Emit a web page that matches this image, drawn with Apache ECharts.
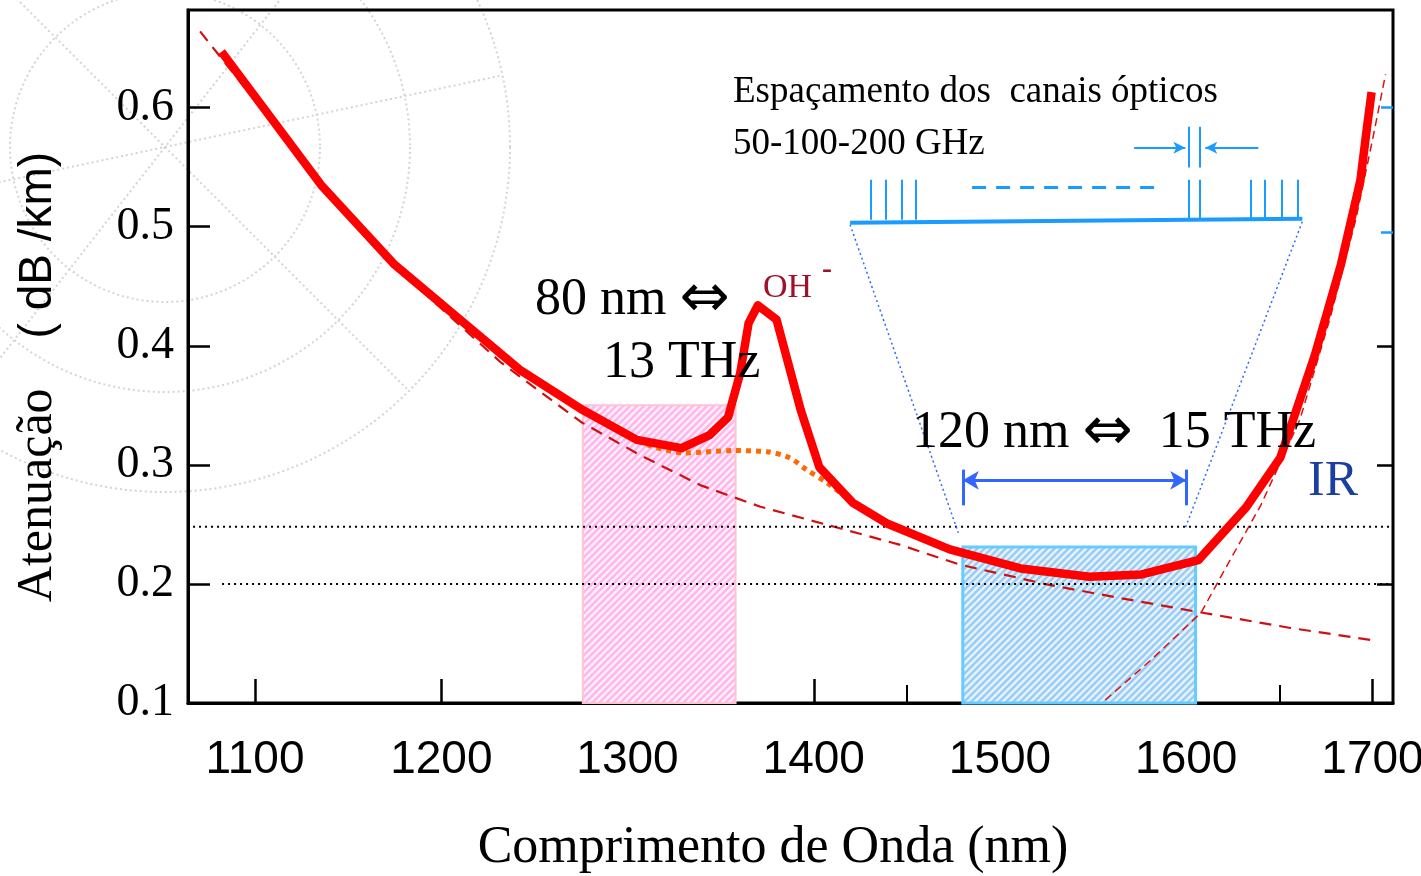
<!DOCTYPE html>
<html>
<head>
<meta charset="utf-8">
<title>Atenuação da fibra</title>
<script src="https://cdn.jsdelivr.net/npm/echarts@6/dist/echarts.min.js"></script>
<style>
  html, body { margin: 0; padding: 0; background: #fff; }
  #chart { width: 1421px; height: 876px; }
</style>
</head>
<body>
<div id="chart"></div>
<script>
// curva de atenuação medida (nm, dB/km)
var lambdaFibra = [1082, 1136, 1175, 1210, 1242, 1276, 1305, 1329, 1344, 1354, 1360.5, 1365, 1370, 1380, 1393, 1403, 1421, 1439, 1473, 1511, 1548, 1576, 1606.5, 1632, 1650.5, 1669, 1683, 1693.5, 1697, 1699.5];
var atenFibra = [0.647, 0.534, 0.468, 0.422, 0.380, 0.346, 0.321, 0.314, 0.325, 0.340, 0.377, 0.419, 0.434, 0.422, 0.346, 0.298, 0.268, 0.251, 0.229, 0.213, 0.206, 0.208, 0.220, 0.264, 0.306, 0.392, 0.468, 0.539, 0.583, 0.613];

// fibra sem o pico OH- (pontilhado laranja)
var lambdaSemOH = [1310.5, 1330, 1357, 1375, 1387, 1396, 1407, 1425];
var atenSemOH = [0.317, 0.310, 0.312, 0.311, 0.306, 0.296, 0.285, 0.264];

// espalhamento Rayleigh (tracejado)
var lambdaRayleigh = [1070.5, 1103, 1140, 1189, 1232, 1275, 1307, 1339, 1371, 1411, 1446, 1479, 1527, 1565, 1608, 1656, 1699];
var atenRayleigh = [0.664, 0.600, 0.527, 0.447, 0.386, 0.336, 0.308, 0.283, 0.265, 0.248, 0.233, 0.216, 0.199, 0.188, 0.176, 0.163, 0.153];

// absorção infravermelha (tracejado fino)
var lambdaIR = [1556.5, 1581, 1608, 1623.5, 1640, 1661, 1677, 1691, 1700, 1707];
var atenIR = [0.1025, 0.136, 0.176, 0.220, 0.266, 0.338, 0.422, 0.506, 0.573, 0.628];

// níveis de referência (linhas pontilhadas)
var nivelSuperior = 0.248;
var nivelInferior = 0.2;

// bandas (nm) e topo (dB/km)
var banda1310 = [1276, 1358];
var topo1310 = 0.35;
var banda1550 = [1480, 1605];
var topo1550 = 0.231;

// eixos
var ticksX = [1100, 1200, 1300, 1400, 1500, 1600, 1700];
var ticksXMenores = [1350, 1450, 1550, 1650];
var ticksY = [0.1, 0.2, 0.3, 0.4, 0.5, 0.6];

// diagrama dos canais (em unidades dos eixos)
var canaisX = [1430.8, 1438.9, 1447, 1455, 1601.1, 1607.5, 1634.4, 1642.4, 1651, 1659.6];

function hachura(fundo, traco) {
    var c = document.createElement('canvas');
    c.width = 7; c.height = 7;
    var g = c.getContext('2d');
    g.fillStyle = fundo;
    g.fillRect(0, 0, 7, 7);
    g.strokeStyle = traco;
    g.lineWidth = 2.6;
    g.beginPath();
    g.moveTo(-1, 8); g.lineTo(8, -1);
    g.moveTo(-4, 4); g.lineTo(4, -4);
    g.moveTo(3, 11); g.lineTo(11, 3);
    g.stroke();
    return c;
}

function pares(xs, ys) {
    return xs.map(function (x, i) { return [x, ys[i]]; });
}

var azul = '#1a9bff';
var azulSeta = '#3366ff';
var serif = '"Liberation Serif", "Times New Roman", serif';

var chart = echarts.init(document.getElementById('chart'));

var linhasAnot = [];
// linha base dos canais
linhasAnot.push([{ coord: [1419.5, 0.5034] }, { coord: [1662.3, 0.5067], lineStyle: { color: azul, width: 4, type: 'solid' } }]);
canaisX.forEach(function (x, i) {
    linhasAnot.push([{ coord: [x, 0.5059] }, { coord: [x, 0.5395], lineStyle: { color: azul, width: 2, type: 'solid' } }]);
});
linhasAnot.push([{ coord: [1485, 0.5328] }, { coord: [1583, 0.5328], lineStyle: { color: azul, width: 3, type: [14, 10] } }]);
[1601.1, 1607.5].forEach(function (x) {
    linhasAnot.push([{ coord: [x, 0.5497] }, { coord: [x, 0.584], lineStyle: { color: azul, width: 2, type: 'solid' } }]);
});
linhasAnot.push([{ coord: [1572, 0.5664] }, { coord: [1599.5, 0.5664], symbol: 'arrow', symbolSize: [9, 12], lineStyle: { color: azul, width: 2, type: 'solid' } }]);
linhasAnot.push([{ coord: [1638.7, 0.5664] }, { coord: [1610.2, 0.5664], symbol: 'arrow', symbolSize: [9, 12], lineStyle: { color: azul, width: 2, type: 'solid' } }]);
// trapézio pontilhado
linhasAnot.push([{ coord: [1419.5, 0.5017] }, { coord: [1477.6, 0.2429], lineStyle: { color: azulSeta, width: 1.5, type: [2, 3] } }]);
linhasAnot.push([{ coord: [1662.3, 0.5042] }, { coord: [1599.5, 0.247], lineStyle: { color: azulSeta, width: 1.5, type: [2, 3] } }]);
// seta 120 nm
linhasAnot.push([{ coord: [1480, 0.287], symbol: 'arrow' }, { coord: [1600, 0.287], symbol: 'arrow', lineStyle: { color: azulSeta, width: 3, type: 'solid' } }]);
[1480, 1600].forEach(function (x) {
    linhasAnot.push([{ coord: [x, 0.266] }, { coord: [x, 0.296], lineStyle: { color: azulSeta, width: 3, type: 'solid' } }]);
});

var circulos = [155, 245, 345].map(function (r) {
    return {
        type: 'circle', z: -10, silent: true,
        shape: { cx: 165, cy: 147, r: r },
        style: { fill: 'none', stroke: '#d4d4d4', lineWidth: 2, lineDash: [2, 3] }
    };
});
var raios = [-12, 45, 128].map(function (a) {
    var t = a * Math.PI / 180, r = 345;
    return {
        type: 'line', z: -10, silent: true,
        shape: { x1: 165 - r * Math.cos(t), y1: 147 - r * Math.sin(t), x2: 165 + r * Math.cos(t), y2: 147 + r * Math.sin(t) },
        style: { stroke: '#d4d4d4', lineWidth: 2, lineDash: [2, 3] }
    };
});

// seta dupla
var setaRich = { ar: { font: '60px "DejaVu Sans", sans-serif', fill: '#000' } };

function texto(x, y, s, size, cor, extra) {
    var o = {
        type: 'text', x: x, y: y, z: 50, silent: true,
        style: { text: s, font: size + 'px ' + serif, fill: cor || '#000', align: 'left', verticalAlign: 'middle', rich: setaRich }
    };
    if (extra) Object.assign(o.style, extra);
    return o;
}

var option = {
    animation: false,
    backgroundColor: '#fff',
    grid: {
        left: 188, right: 28, top: 10, bottom: 173, outerBoundsMode: 'none', containLabel: false,
        show: true, borderColor: '#000', borderWidth: 3, backgroundColor: 'transparent'
    },
    xAxis: [{
        type: 'value', min: 1064, max: 1711,
        axisLine: { show: true, lineStyle: { color: '#000', width: 3 } },
        axisTick: { show: true, inside: true, length: 24, customValues: ticksX, lineStyle: { color: '#000', width: 2.5 } },
        axisLabel: {
            customValues: ticksX, margin: 34, fontSize: 46, color: '#000',
            fontFamily: '"Liberation Sans Narrow", "Arial Narrow", "Liberation Sans", sans-serif',
            formatter: function (v) { return String(v); }
        },
        splitLine: { show: false }
    }, {
        type: 'value', min: 1064, max: 1711, position: 'bottom',
        axisLine: { show: false },
        axisTick: { show: true, inside: true, length: 18, customValues: ticksXMenores, lineStyle: { color: '#000', width: 2 } },
        axisLabel: { show: false },
        splitLine: { show: false }
    }],
    yAxis: [{
        type: 'value', min: 0.1, max: 0.682,
        axisLine: { show: true, lineStyle: { color: '#000', width: 3 } },
        axisTick: { show: true, inside: true, length: 22, customValues: ticksY.slice(1), lineStyle: { color: '#000', width: 2.5 } },
        axisLabel: { customValues: ticksY, margin: 14, fontSize: 46, color: '#000', fontFamily: serif, formatter: function (v) { return v.toFixed(1); } },
        splitLine: { show: false }
    }, {
        type: 'value', min: 0.1, max: 0.682, position: 'right',
        axisLine: { show: false },
        axisTick: { show: true, inside: true, length: 16, customValues: [0.2, 0.3, 0.4], lineStyle: { color: '#000', width: 2.5 } },
        axisLabel: { show: false },
        splitLine: { show: false }
    }, {
        type: 'value', min: 0.1, max: 0.682, position: 'right',
        axisLine: { show: false },
        axisTick: { show: true, inside: true, length: 12, customValues: [0.495, 0.6], lineStyle: { color: azul, width: 2.5 } },
        axisLabel: { show: false },
        splitLine: { show: false }
    }],
    series: [{
        name: 'Rayleigh',
        type: 'line', z: 2, showSymbol: false, symbol: 'none',
        data: pares(lambdaRayleigh, atenRayleigh),
        lineStyle: { color: '#d01010', width: 2.2, type: [12, 8] },
        markArea: {
            silent: true,
            data: [
                [{ coord: [banda1310[0], 0.1], itemStyle: { color: { image: hachura('#fff0fb', '#ffb6ec'), repeat: 'repeat' }, borderColor: '#ffc4cf', borderWidth: 2 } }, { coord: [banda1310[1], topo1310] }],
                [{ coord: [banda1550[0], 0.1], itemStyle: { color: { image: hachura('#e6f3fd', '#9acdf5'), repeat: 'repeat' }, borderColor: '#66ccff', borderWidth: 3 } }, { coord: [banda1550[1], topo1550] }]
            ]
        }
    }, {
        name: 'IR',
        type: 'line', z: 3, showSymbol: false, symbol: 'none',
        data: pares(lambdaIR, atenIR),
        lineStyle: { color: '#e01010', width: 1.5, type: [8, 5] }
    }, {
        name: 'nível 1',
        type: 'line', z: 3, showSymbol: false, symbol: 'none',
        data: [[1066.7, nivelSuperior], [1711, nivelSuperior]],
        lineStyle: { color: '#000', width: 2, type: [2, 4] }
    }, {
        name: 'nível 2',
        type: 'line', z: 3, showSymbol: false, symbol: 'none',
        data: [[1082.3, nivelInferior], [1711, nivelInferior]],
        lineStyle: { color: '#000', width: 2, type: [2, 4] },
        markLine: {
            silent: true, symbol: 'none', symbolSize: [14, 16],
            label: { show: false },
            lineStyle: { color: azul, width: 2, type: 'solid' },
            data: linhasAnot
        }
    }, {
        name: 'sem OH',
        type: 'line', z: 4, showSymbol: false, symbol: 'none', smooth: 0.3,
        data: pares(lambdaSemOH, atenSemOH),
        lineStyle: { color: '#ff6a00', width: 5, type: [5, 5] }
    }, {
        name: 'Atenuação',
        type: 'line', z: 5, showSymbol: false, symbol: 'none',
        data: pares(lambdaFibra, atenFibra),
        lineStyle: { color: '#ff0000', width: 8.5, join: 'round' }
    }],
    graphic: circulos.concat(raios).concat([
        texto(733, 92, 'Espaçamento dos  canais ópticos', 37),
        texto(733, 144, '50-100-200 GHz', 37),
        texto(535, 300, '80 nm {ar|⇔}', 52),
        texto(603, 363, '13 THz', 52),
        texto(763, 288, 'OH', 34, '#a0102a'),
        texto(822, 270, '-', 30, '#a0102a', { font: 'bold 30px ' + serif }),
        texto(912, 433, '120 nm {ar|⇔}  15 THz', 52),
        texto(1308, 482, 'IR', 50, '#1a3fa0'),
        texto(773, 848, 'Comprimento de Onda (nm)', 52, '#000', { align: 'center' }),
        {
            type: 'text', x: 38, y: 377, rotation: Math.PI / 2, z: 50, silent: true,
            style: {
                text: '{a|Atenuação}{s|    }{b|( dB /km)}',
                align: 'center', verticalAlign: 'middle', fill: '#000',
                rich: {
                    a: { font: '50px ' + serif, fill: '#000' },
                    s: { font: '50px ' + serif },
                    b: { font: '46px "Liberation Sans", Arial, sans-serif', fill: '#000' }
                }
            }
        }
    ])
};

chart.setOption(option);
</script>
</body>
</html>
